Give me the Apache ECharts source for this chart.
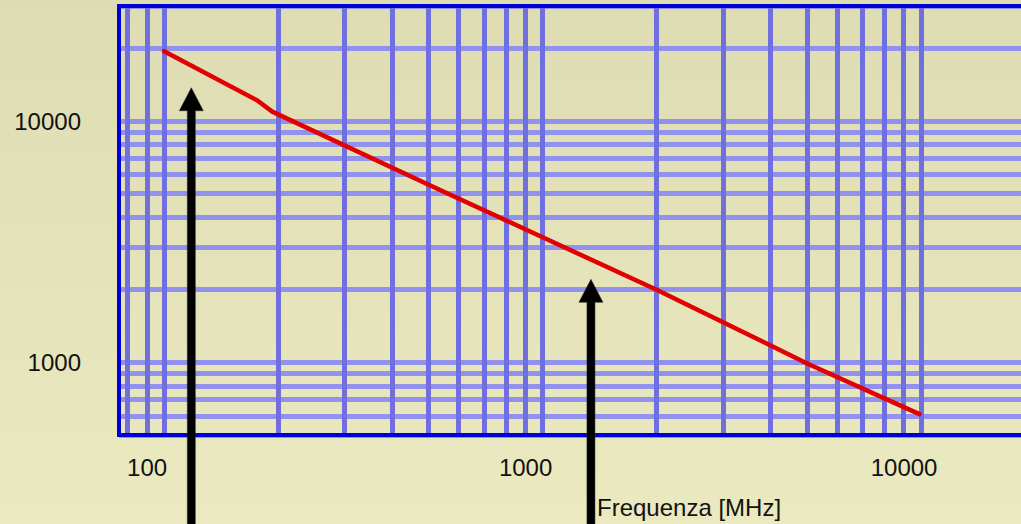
<!DOCTYPE html>
<html>
<head>
<meta charset="utf-8">
<script src="https://cdn.jsdelivr.net/npm/echarts@6/dist/echarts.min.js"></script>
<style>html,body{margin:0;padding:0;overflow:hidden;} #c{width:1021px;height:524px;}</style>
</head>
<body>
<div id="c"></div>
<script>
// ---- data ----
const frequencies = [100, 176, 193, 500, 1000, 2000, 5000, 9900];
const values = [19500, 12200, 10950, 5450, 3300, 2000, 990, 610];
const xTickLabels = [100, 1000, 10000];
const yTickLabels = [1000, 10000];
const xGridValues = [80, 90, 100, 200, 300, 400, 500, 600, 700, 800, 900, 1000, 2000, 3000, 4000, 5000, 6000, 7000, 8000, 9000, 10000];
const yGridValues = [500, 600, 700, 800, 900, 1000, 2000, 3000, 4000, 5000, 6000, 7000, 8000, 9000, 10000, 20000, 30000];
const arrowFreqs = [118, 1342];
const arrowTipValues = [13750, 2209];
const axisTitle = 'Frequenza [MHz]';

const FONT = '"Liberation Sans", Arial, sans-serif';
const chart = echarts.init(document.getElementById('c'), null, {renderer: 'svg'});

const lineData = frequencies.map((f, i) => [f, values[i]]);
const gridMarks = yGridValues.map(v => ({yAxis: v, lineStyle: {color: '#9191EE'}}))
  .concat(xGridValues.map(v => ({xAxis: v, lineStyle: {color: '#6F6FE0'}})));

chart.setOption({
  animation: false,
  backgroundColor: {
    type: 'linear', x: 0, y: 0, x2: 0, y2: 1,
    colorStops: [{offset: 0, color: '#DEDCB3'}, {offset: 1, color: '#EAE9C0'}]
  },
  grid: {
    left: 119, width: 916, top: 6, height: 429,
    outerBoundsMode: 'none', containLabel: false,
    show: true, borderColor: '#0000D8', borderWidth: 4,
    backgroundColor: 'transparent', z: 2
  },
  xAxis: {
    type: 'log', logBase: 10, min: 76, max: 20000,
    axisLine: {show: false}, axisTick: {show: false}, splitLine: {show: false},
    axisLabel: {
      show: true, margin: 20, fontSize: 24, fontFamily: FONT, color: '#111',
      padding: [0, 34, 0, 0],
      showMinLabel: false, showMaxLabel: false,
      formatter: function (v) {
        const r = Math.round(v);
        return xTickLabels.indexOf(r) >= 0 ? String(r) : '';
      }
    }
  },
  yAxis: {
    type: 'log', logBase: 10, min: 500, max: 30000,
    axisLine: {show: false}, axisTick: {show: false}, splitLine: {show: false},
    axisLabel: {
      show: true, margin: 38, fontSize: 24, fontFamily: FONT, color: '#111',
      padding: [9, 0, 0, 0],
      showMinLabel: false, showMaxLabel: false,
      formatter: function (v) {
        const r = Math.round(v);
        return yTickLabels.indexOf(r) >= 0 ? String(r) : '';
      }
    }
  },
  series: [
    {
      type: 'line', data: [], z: 1, silent: true,
      markLine: {
        z: 1,
        silent: true, symbol: ['none', 'none'], animation: false,
        label: {show: false},
        lineStyle: {type: 'solid', width: 5, opacity: 1},
        emphasis: {disabled: true},
        data: gridMarks
      }
    },
    {
      type: 'line', data: lineData, z: 3, showSymbol: false, symbol: 'none',
      lineStyle: {color: '#E20000', width: 4.5, cap: 'round', join: 'round'},
      silent: true
    }
  ]
});

// arrows placed through the axes' scales
const H = 530;
const graphics = arrowFreqs.map((f, i) => {
  const p = chart.convertToPixel({xAxisIndex: 0, yAxisIndex: 0}, [f, arrowTipValues[i]]);
  const x = p[0], y = p[1];
  return {
    type: 'polygon', z: 10, silent: true,
    shape: {points: [[x, y], [x - 12, y + 23], [x - 4, y + 23], [x - 4, H], [x + 4, H], [x + 4, y + 23], [x + 12, y + 23]]},
    style: {fill: '#000', stroke: '#222', lineWidth: 0.5}
  };
});
graphics.push({
  type: 'text', z: 10, left: 597, top: 495, silent: true,
  style: {text: axisTitle, font: '24px ' + FONT, fill: '#111'}
});
chart.setOption({graphic: graphics});
</script>
</body>
</html>
